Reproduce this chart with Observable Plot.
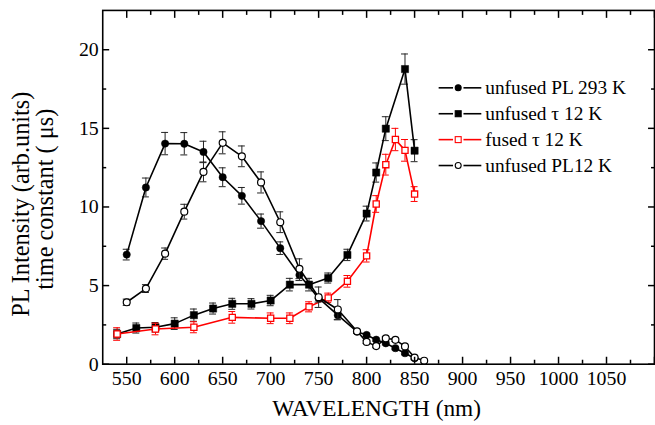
<!DOCTYPE html>
<html>
<head>
<meta charset="utf-8">
<script src="https://cdn.jsdelivr.net/npm/d3@7"></script>
<script src="https://cdn.jsdelivr.net/npm/@observablehq/plot@0.6"></script>
<style>
  html, body { margin: 0; padding: 0; background: #fff; overflow: hidden; }
  svg text { font-family: "Liberation Serif", "Times New Roman", serif; }
</style>
</head>
<body>
<div id="chart"></div>
<script>
// Wavelength (nm), value and error bar half-width for each series
const wlPL293 = [550, 570, 590, 610, 630, 650, 670, 690, 710, 730, 750, 770, 790, 800, 810, 820, 830, 840, 850];
const plPL293 = [6.97, 11.24, 14.03, 14.02, 13.5, 11.89, 10.71, 9.1, 7.38, 5.67, 4.2, 3.12, 2.07, 1.86, 1.56, 1.33, 1.02, 0.7, 0.38];
const errPL293 = [0.34, 0.6, 0.71, 0.71, 0.68, 0.6, 0.53, 0.45, 0.4, 0.35, 0.25, 0.3, 0.1, 0.1, 0.1, 0.1, 0.1, 0.1, 0.1];

const wlTau = [540, 560, 580, 600, 620, 640, 660, 680, 700, 720, 740, 760, 780, 800, 810, 820, 840, 850];
const tauUnfused = [1.92, 2.3, 2.35, 2.58, 3.12, 3.54, 3.84, 3.84, 4.05, 5.06, 5.06, 5.48, 6.95, 9.58, 12.19, 14.98, 18.77, 13.58];
const errTauUnfused = [0.3, 0.32, 0.3, 0.37, 0.39, 0.35, 0.35, 0.33, 0.33, 0.4, 0.4, 0.32, 0.36, 0.47, 0.61, 0.76, 0.96, 0.7];

const wlFused = [540, 580, 620, 660, 700, 720, 740, 760, 780, 800, 810, 820, 830, 840, 850];
const tauFused = [1.92, 2.24, 2.35, 2.98, 2.92, 2.92, 3.65, 4.22, 5.27, 6.89, 10.19, 12.69, 14.29, 13.6, 10.82];
const errTauFused = [0.4, 0.37, 0.35, 0.37, 0.34, 0.34, 0.32, 0.3, 0.37, 0.39, 0.53, 0.66, 0.71, 0.69, 0.47];

const wlPL12 = [550, 570, 590, 610, 630, 650, 670, 690, 710, 730, 750, 770, 790, 800, 810, 820, 830, 840, 850, 860];
const plPL12 = [3.94, 4.81, 7.03, 9.7, 12.23, 14.08, 13.22, 11.56, 9.03, 6.07, 4.26, 3.48, 2.09, 1.42, 1.15, 1.65, 1.55, 1.13, 0.42, 0.22];
const errPL12 = [0.2, 0.25, 0.36, 0.47, 0.63, 0.7, 0.66, 0.67, 0.66, 0.63, 0.65, 0.63, 0.1, 0.1, 0.1, 0.1, 0.1, 0.1, 0.1, 0.1];

const seriesNames = ["unfused PL 293 K", "unfused \u03c4 12 K", "fused \u03c4 12 K", "unfused PL12 K"];

// Axis ticks and labels
const xTickLabels = [550, 600, 650, 700, 750, 800, 850, 900, 950, 1000, 1050];
const xMajor = [550, 600, 650, 700, 750, 800, 850, 900, 950, 1000, 1050, 1100];
const xMinor = [575, 625, 675, 725, 775, 825, 875, 925, 975, 1025, 1075];
const yTickLabels = [0, 5, 10, 15, 20];
const yMinor = [2.5, 7.5, 12.5, 17.5];

const xTitle = "WAVELENGTH (nm)";
const yTitle1 = "PL Intensity (arb.units)";
const yTitle2 = "time constant ( \u03bcs)";

const serif = "Liberation Serif";

const rows = (wl, v, e) => wl.map((x, i) => ({x, y: v[i], e: e[i]}));
const dPL293 = rows(wlPL293, plPL293, errPL293);
const dTau = rows(wlTau, tauUnfused, errTauUnfused);
const dFused = rows(wlFused, tauFused, errTauFused);
const dPL12 = rows(wlPL12, plPL12, errPL12);

// Error bars with caps, connecting line, then markers
function series(data, color, barColor, dot) {
  return [
    Plot.ruleX(data, {x: "x", y1: d => d.y - d.e, y2: d => d.y + d.e, stroke: barColor, strokeWidth: 1}),
    Plot.ruleY(data, {y: d => d.y + d.e, x1: "x", x2: "x", insetLeft: -3.5, insetRight: -3.5, stroke: barColor, strokeWidth: 1}),
    Plot.ruleY(data, {y: d => d.y - d.e, x1: "x", x2: "x", insetLeft: -3.5, insetRight: -3.5, stroke: barColor, strokeWidth: 1}),
    Plot.line(data, {x: "x", y: "y", stroke: color, strokeWidth: 1.6}),
    Plot.dot(data, {x: "x", y: "y", stroke: color, ...dot})
  ];
}

const fmt = d => String(d);

const chart = Plot.plot({
  width: 660,
  height: 425,
  marginLeft: 103,
  marginRight: 1,
  marginTop: 10,
  marginBottom: 58.5,
  style: {fontFamily: serif, fontSize: "20px", color: "black", background: "white"},
  x: {domain: [525, 1100]},
  y: {domain: [0, 22.5]},
  marks: [
    ...series(dTau, "black", "#222", {symbol: "square", r: 4.1, fill: "black", strokeWidth: 0.5}),
    ...series(dFused, "#ff0000", "#ff0000", {symbol: "square", r: 3.5, fill: "white", strokeWidth: 1.3}),
    ...series(dPL293, "black", "#222", {symbol: "circle", r: 3.7, fill: "black", strokeWidth: 0.5}),
    ...series(dPL12, "black", "#222", {symbol: "circle", r: 3.5, fill: "white", strokeWidth: 1.2}),

    Plot.axisX({anchor: "bottom", ticks: xTickLabels, tickFormat: fmt, tickSize: 0, tickPadding: 7, fontSize: 20, fontFamily: serif, label: null}),
    Plot.axisX({anchor: "bottom", ticks: xMajor, tickSize: 7, dy: -7, fill: "none", strokeWidth: 1.5}),
    Plot.axisX({anchor: "bottom", ticks: xMinor, tickSize: 4, dy: -4, fill: "none", strokeWidth: 1.5}),
    Plot.axisX({anchor: "top", ticks: xMajor, tickSize: 7, dy: 7, fill: "none", strokeWidth: 1.5}),
    Plot.axisX({anchor: "top", ticks: xMinor, tickSize: 4, dy: 4, fill: "none", strokeWidth: 1.5}),
    Plot.axisY({anchor: "left", ticks: yTickLabels, tickFormat: fmt, tickSize: 0, tickPadding: 4, fontSize: 20, fontFamily: serif, label: null}),
    Plot.axisY({anchor: "left", ticks: yTickLabels, tickSize: 7, dx: 7, fill: "none", strokeWidth: 1.5}),
    Plot.axisY({anchor: "left", ticks: yMinor, tickSize: 4, dx: 4, fill: "none", strokeWidth: 1.5}),
    Plot.axisY({anchor: "right", ticks: yTickLabels, tickSize: 7, dx: -7, fill: "none", strokeWidth: 1.5}),
    Plot.axisY({anchor: "right", ticks: yMinor, tickSize: 4, dx: -4, fill: "none", strokeWidth: 1.5}),
    Plot.frame({stroke: "black", strokeWidth: 1.6}),

    Plot.text([xTitle], {text: d => d, frameAnchor: "bottom", dx: -2, dy: 45, fontSize: 23.5, fontFamily: serif, textAnchor: "middle", lineAnchor: "middle"}),
    Plot.text([yTitle1], {text: d => d, frameAnchor: "left", rotate: -90, dx: -82, dy: 17, fontSize: 24.5, fontFamily: serif, textAnchor: "middle", lineAnchor: "middle"}),
    Plot.text([yTitle2], {text: d => d, frameAnchor: "left", rotate: -90, dx: -58, dy: 12, fontSize: 24.5, fontFamily: serif, textAnchor: "middle", lineAnchor: "middle"})
  ]
});

// Legend inside the plotting area
const legendStyles = [
  {color: "black", shape: "circle", fill: "black"},
  {color: "black", shape: "square", fill: "black"},
  {color: "#ff0000", shape: "square", fill: "white"},
  {color: "black", shape: "circle", fill: "white"}
];
const lg = d3.select(chart).append("g").attr("font-family", serif).attr("text-anchor", "start");
seriesNames.forEach((name, i) => {
  const st = legendStyles[i];
  const cy = 88.5 + i * 26.1;
  const row = lg.append("g").attr("transform", `translate(0,${cy})`);
  row.append("line").attr("x1", 442).attr("x2", 456.5).attr("y1", 0).attr("y2", 0)
    .attr("stroke", st.color).attr("stroke-width", 1.6);
  row.append("line").attr("x1", 467).attr("x2", 485).attr("y1", 0).attr("y2", 0)
    .attr("stroke", st.color).attr("stroke-width", 1.6);
  if (st.shape === "circle") {
    row.append("circle").attr("cx", 461.7).attr("cy", 0).attr("r", 3)
      .attr("fill", st.fill).attr("stroke", st.color).attr("stroke-width", 1.1);
  } else {
    row.append("rect").attr("x", 458.7).attr("y", -3).attr("width", 6).attr("height", 6)
      .attr("fill", st.fill).attr("stroke", st.color).attr("stroke-width", 1.1);
  }
  row.append("text").attr("x", 489).attr("y", 0).attr("dy", "0.33em")
    .attr("font-size", 19.5).attr("fill", "black").text(name);
});

document.getElementById("chart").appendChild(chart);
</script>
</body>
</html>
